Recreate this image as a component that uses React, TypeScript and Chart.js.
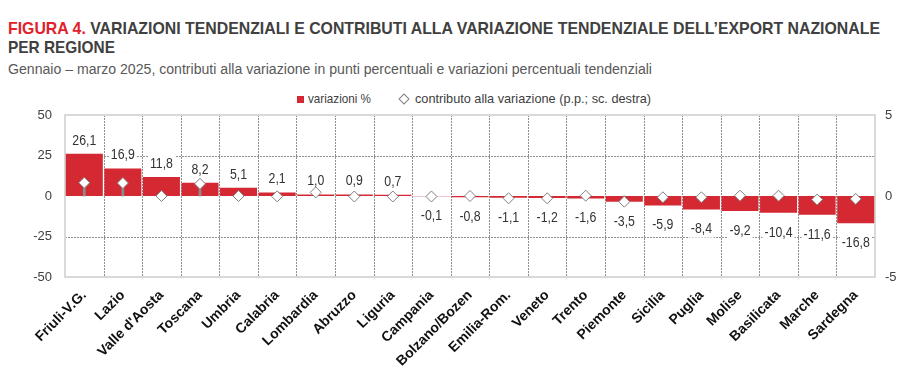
import React, { useEffect, useLayoutEffect, useRef } from "react";
import { Chart, registerables } from "chart.js";
Chart.register(...registerables);

const regions = ["Friuli-V.G.", "Lazio", "Valle d'Aosta", "Toscana", "Umbria", "Calabria", "Lombardia", "Abruzzo", "Liguria", "Campania", "Bolzano/Bozen", "Emilia-Rom.", "Veneto", "Trento", "Piemonte", "Sicilia", "Puglia", "Molise", "Basilicata", "Marche", "Sardegna"];
const variazioni = [26.1, 16.9, 11.8, 8.2, 5.1, 2.1, 1.0, 0.9, 0.7, -0.1, -0.8, -1.1, -1.2, -1.6, -3.5, -5.9, -8.4, -9.2, -10.4, -11.6, -16.8];
const contributi = [0.82, 0.8, 0.0, 0.75, 0.0, -0.02, 0.22, -0.03, -0.03, -0.03, 0.0, -0.14, -0.14, 0.02, -0.35, -0.08, -0.08, 0.02, 0.02, -0.22, -0.18];
const leftTicks = [-50, -25, 0, 25, 50];
const rightTicks = [-5, 0, 5];
const dashedLevels = [-25, 25];

const FONT = '"Liberation Sans", Arial, sans-serif';
const RED = "#d42833";

function Fit({ width, style, children }: { width: number; style: any; children: any }) {
  const ref = useRef<HTMLSpanElement>(null);
  useLayoutEffect(() => {
    const el = ref.current!;
    el.style.transform = "none";
    const w = el.getBoundingClientRect().width;
    if (w > 0) el.style.transform = `scaleX(${width / w})`;
  }, [width]);
  return (
    <span ref={ref} style={{ display: "inline-block", whiteSpace: "nowrap", transformOrigin: "0 0", ...style }}>
      {children}
    </span>
  );
}

export default function App() {
  const ref = useRef<HTMLCanvasElement>(null);
  useEffect(() => {
    const framePlugin = {
      id: "frame",
      beforeDatasetsDraw(chart: any) {
        const { ctx, chartArea: a } = chart;
        const xs = chart.scales.x;
        const ys = chart.scales.y;
        ctx.save();
        ctx.strokeStyle = "#8f8f8f";
        ctx.lineWidth = 1;
        ctx.setLineDash([2, 1]);
        const n = regions.length;
        for (let i = 1; i < n; i++) {
          const x = Math.round((xs.getPixelForTick(i) + xs.getPixelForTick(i - 1)) / 2) + 0.5;
          ctx.beginPath();
          ctx.moveTo(x, a.top);
          ctx.lineTo(x, a.bottom);
          ctx.stroke();
        }
        dashedLevels.forEach((v) => {
          const y = Math.round(ys.getPixelForValue(v)) + 0.5;
          ctx.beginPath();
          ctx.moveTo(a.left, y);
          ctx.lineTo(a.right, y);
          ctx.stroke();
        });
        ctx.setLineDash([]);
        ctx.strokeStyle = "#d9d9d9";
        ctx.lineWidth = 2;
        ctx.strokeRect(a.left, a.top, a.right - a.left, a.bottom - a.top);
        ctx.restore();
      },
    };
    const labelPlugin = {
      id: "barLabels",
      afterDatasetDraw(chart: any, args: any) {
        if (args.index !== 0) return;
        const { ctx } = chart;
        const meta = chart.getDatasetMeta(0);
        ctx.save();
        ctx.font = `14px ${FONT}`;
        ctx.textAlign = "center";
        ctx.textBaseline = "middle";
        meta.data.forEach((el: any, i: number) => {
          const v = variazioni[i];
          const txt = v.toFixed(1).replace(".", ",");
          const y = v >= 0 ? el.y - 14 : el.y + 19;
          const w = ctx.measureText(txt).width * 0.88;
          ctx.fillStyle = "#ffffff";
          ctx.fillRect(el.x - w / 2 - 2, y - 9, w + 4, 18);
          ctx.fillStyle = "#333333";
          ctx.save();
          ctx.translate(el.x, y + 1);
          ctx.scale(0.88, 1);
          ctx.fillText(txt, 0, 0);
          ctx.restore();
        });
        ctx.restore();
      },
    };
    const chart = new Chart(ref.current!, {
      type: "bar",
      data: {
        labels: regions,
        datasets: [
          {
            type: "bar",
            label: "variazioni %",
            data: variazioni,
            backgroundColor: RED,
            borderWidth: 0,
            yAxisID: "y",
            grouped: false,
            barPercentage: 0.96,
            categoryPercentage: 1,
            order: 3,
          } as any,
          {
            type: "bar",
            label: "stem",
            data: contributi,
            backgroundColor: "#8c8c8c",
            borderWidth: 0,
            yAxisID: "y1",
            grouped: false,
            barThickness: 2,
            order: 2,
          } as any,
          {
            type: "line",
            label: "contributo alla variazione (p.p.; sc. destra)",
            data: contributi,
            yAxisID: "y1",
            showLine: false,
            pointStyle: "rectRot",
            pointRadius: 5.5,
            pointBackgroundColor: "#ffffff",
            pointBorderColor: "#7f7f7f",
            pointBorderWidth: 1,
            order: 1,
          } as any,
        ],
      },
      options: {
        responsive: false,
        animation: false,
        layout: { padding: { top: 31, left: 0, right: 0, bottom: 0 } },
        plugins: { legend: { display: false }, tooltip: { enabled: false } },
        scales: {
          x: {
            grid: { display: false, offset: true, drawTicks: false },
            border: { display: false },
            ticks: {
              font: { family: FONT, size: 14, weight: "bold" },
              color: "#111111",
              maxRotation: 45,
              minRotation: 45,
              autoSkip: false,
              padding: 10,
            },
            afterFit: (s: any) => { s.height = 105; },
          },
          y: {
            position: "left",
            min: -50,
            max: 50,
            afterBuildTicks: (s: any) => { s.ticks = leftTicks.map((v) => ({ value: v })); },
            ticks: { font: { family: FONT, size: 13 }, color: "#404040", padding: 13 },
            grid: { display: false, drawTicks: false },
            border: { display: false },
            afterFit: (s: any) => { s.width = 57; },
          },
          y1: {
            position: "right",
            min: -5,
            max: 5,
            afterBuildTicks: (s: any) => { s.ticks = rightTicks.map((v) => ({ value: v })); },
            ticks: { font: { family: FONT, size: 13 }, color: "#404040", padding: 10 },
            grid: { display: false, drawTicks: false },
            border: { display: false },
            afterFit: (s: any) => { s.width = 36; },
          },
        },
      } as any,
      plugins: [framePlugin, labelPlugin],
    });
    return () => chart.destroy();
  }, []);

  return (
    <div style={{ position: "relative", width: 903, height: 374, fontFamily: FONT }}>
      <div style={{ position: "absolute", left: 0, top: 11, fontSize: 17, lineHeight: "19px", fontWeight: 700, color: "#404040" }}>
        <Fit width={872} style={{}}>
          <span style={{ color: "#e3202b" }}>FIGURA 4.</span> VARIAZIONI TENDENZIALI E CONTRIBUTI ALLA VARIAZIONE TENDENZIALE DELL’EXPORT NAZIONALE
        </Fit>
        <br />
        <Fit width={107} style={{}}>PER REGIONE</Fit>
      </div>
      <div style={{ position: "absolute", left: 0, top: 53, fontSize: 14, lineHeight: "16px", color: "#595959" }}>
        <Fit width={644} style={{}}>
          Gennaio – marzo 2025, contributi alla variazione in punti percentuali e variazioni percentuali tendenziali
        </Fit>
      </div>
      <div style={{ position: "absolute", left: 289, top: 83, height: 16, fontSize: 13, lineHeight: "16px", color: "#404040", whiteSpace: "nowrap" }}>
        <span style={{ position: "absolute", left: 0, top: 5, width: 7, height: 7, background: RED }} />
        <span style={{ position: "absolute", left: 11, top: 0 }}>
          <Fit width={63} style={{}}>variazioni %</Fit>
        </span>
        <span style={{ position: "absolute", left: 103, top: 4, width: 6, height: 6, border: "1px solid #7f7f7f", transform: "rotate(45deg)" }} />
        <span style={{ position: "absolute", left: 118, top: 0 }}>
          <Fit width={236} style={{}}>contributo alla variazione (p.p.; sc. destra)</Fit>
        </span>
      </div>
      <div style={{ position: "absolute", left: 0, top: 76, width: 903, height: 298 }}>
        <canvas ref={ref} width={903} height={298} />
      </div>
    </div>
  );
}
